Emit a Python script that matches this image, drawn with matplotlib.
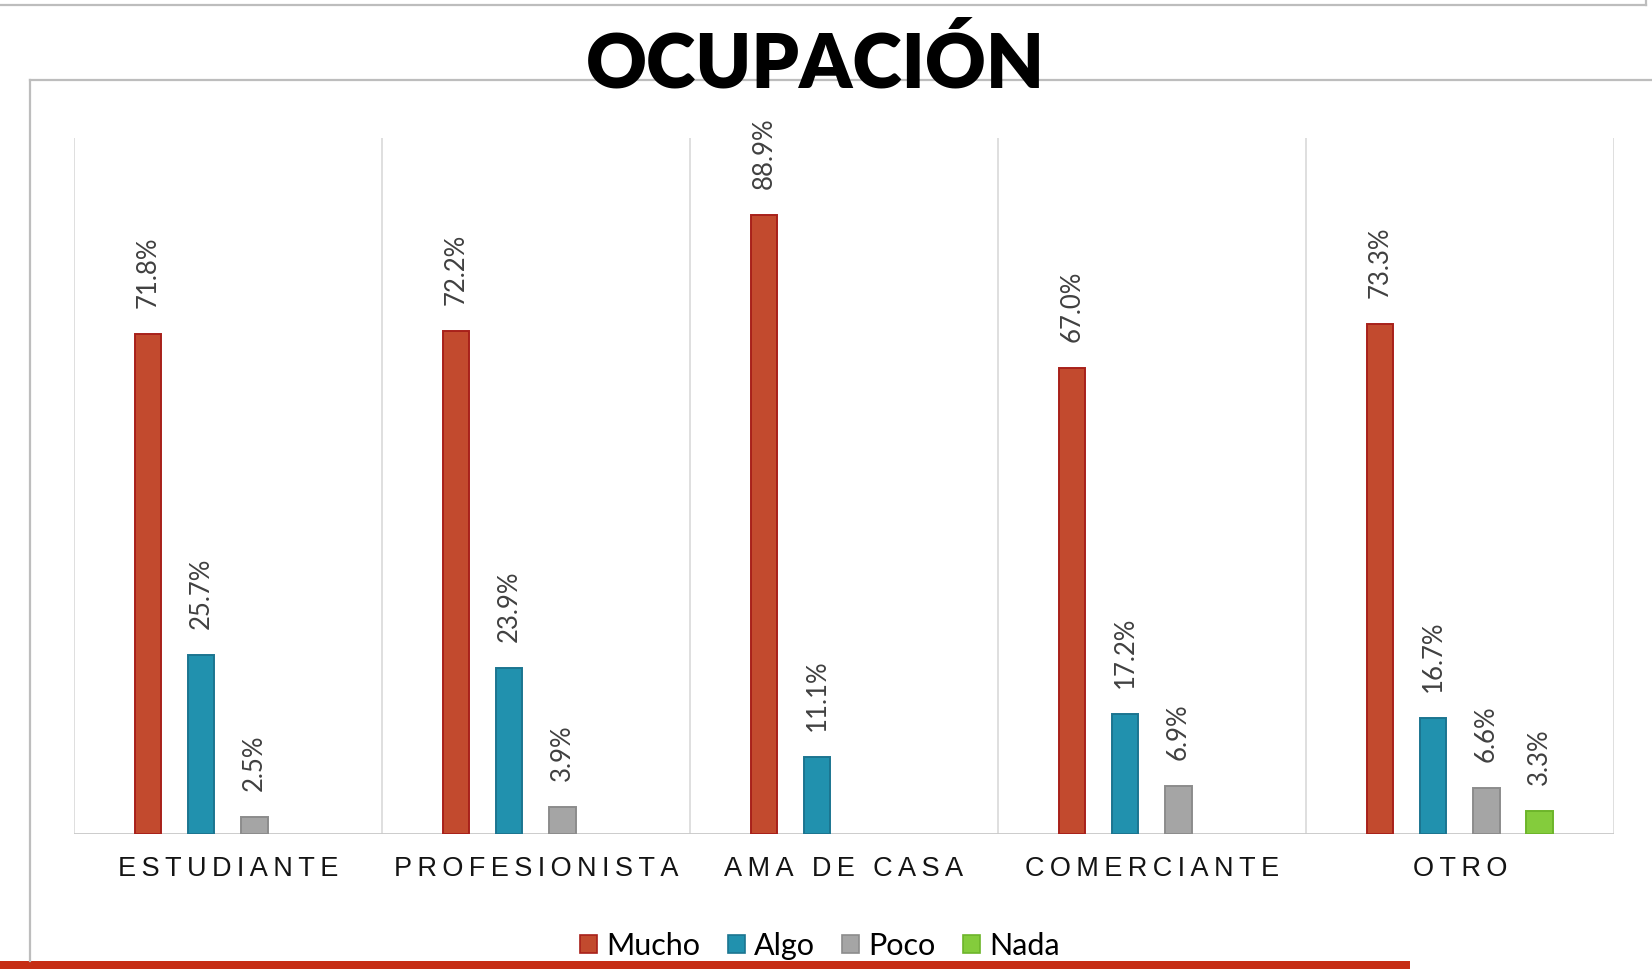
import numpy as np
import matplotlib
matplotlib.use("Agg")
import matplotlib.pyplot as plt
from matplotlib.lines import Line2D
from matplotlib.patches import Rectangle

# data (percent)
categories = ["ESTUDIANTE", "PROFESIONISTA", "AMA DE CASA", "COMERCIANTE", "OTRO"]
series_names = ["Mucho", "Algo", "Poco", "Nada"]
mucho = [71.8, 72.2, 88.9, 67.0, 73.3]
algo = [25.7, 23.9, 11.1, 17.2, 16.7]
poco = [2.5, 3.9, 0.0, 6.9, 6.6]
nada = [0.0, 0.0, 0.0, 0.0, 3.3]

face_colors = ["#C24A2E", "#2191AE", "#A5A5A5", "#84CC3C"]
edge_colors = ["#A8201A", "#1B7590", "#8C8C8C", "#6DB52A"]

W, H = 1652, 969
fig = plt.figure(figsize=(W / 100, H / 100), dpi=100)


def fx(px):
    return px / W


def fy(py):
    # pixel row from the top -> figure fraction
    return 1 - py / H


# decoration lines around the chart
frame_col = "#BDBDBD"
fig.add_artist(Line2D([fx(0), fx(1646)], [fy(5), fy(5)], color=frame_col, lw=1.6))
fig.add_artist(Line2D([fx(1646), fx(1646)], [fy(0), fy(5)], color=frame_col, lw=1.6))
fig.add_artist(Line2D([fx(30), fx(W)], [fy(80), fy(80)], color=frame_col, lw=1.6))
fig.add_artist(Line2D([fx(30), fx(30)], [fy(80), fy(961)], color=frame_col, lw=1.6))
fig.add_artist(Rectangle((0, 0), fx(1410), fy(961), transform=fig.transFigure,
                         color="#C62D14", lw=0))

# plot area
ax = fig.add_axes([fx(74), fy(834), fx(1614) - fx(74), fy(138) - fy(834)])
ax.set_xlim(-0.5, 4.5)
ax.set_ylim(0, 100)
for s in ax.spines.values():
    s.set_visible(False)
ax.set_yticks([])

# group separators + baseline
for xs in np.arange(-0.5, 5, 1):
    ax.axvline(xs, color="#D6D6D6", lw=1.1, zorder=0)
ax.axhline(0, color="#C8C8C8", lw=1.3, zorder=1)

x = np.arange(len(categories))
width = 0.086
offsets = [-0.26, -0.087, 0.086, 0.258]
all_series = [mucho, algo, poco, nada]

for i, vals in enumerate(all_series):
    for xi, v in zip(x, vals):
        if v <= 0:
            continue
        ax.bar(xi + offsets[i], v, width, color=face_colors[i],
               edgecolor=edge_colors[i], linewidth=1.4, zorder=2)
        ax.annotate(f"{v:.1f}%", (xi + offsets[i], v), xytext=(0, 26),
                    textcoords="offset pixels", rotation=90, ha="center",
                    va="bottom", fontsize=18.5, color="#404040",
                    family=["Lato", "DejaVu Sans"])

# spaced out category labels
spaced = ["\u2009".join(list(c)) for c in categories]
ax.set_xticks(x)
ax.set_xticklabels(spaced, fontsize=19.5, family=["Liberation Sans", "DejaVu Sans"],
                   color="#141414")
ax.tick_params(axis="x", length=0, pad=16)

# legend
handles = [Rectangle((0, 0), 1, 1, facecolor=face_colors[i], edgecolor=edge_colors[i], lw=1.2)
           for i in range(4)]
fig.legend(handles, series_names, loc="center", bbox_to_anchor=(fx(820), fy(946)),
           ncol=4, frameon=False, handlelength=0.55, handleheight=0.55,
           handletextpad=0.3, columnspacing=0.9,
           prop={"family": ["Lato", "DejaVu Sans"], "size": 22})

# title
fig.text(fx(815), fy(88), "OCUPACIÓN", ha="center", va="baseline", fontsize=54,
         fontweight="heavy", family=["Lato", "DejaVu Sans"], color="black")

fig.savefig("out.png", dpi=100)
